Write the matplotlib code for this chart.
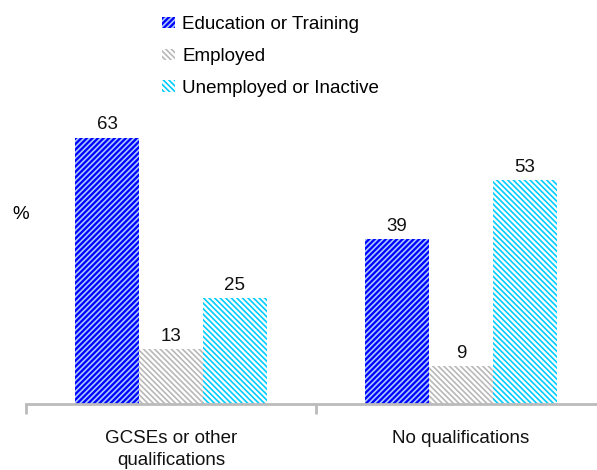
import matplotlib
matplotlib.use("Agg")
import matplotlib.pyplot as plt
from matplotlib.patches import Patch
import numpy as np

plt.rcParams['font.family'] = ['Liberation Sans', 'DejaVu Sans']
plt.rcParams['hatch.linewidth'] = 1.2

categories = ["GCSEs or other\nqualifications", "No qualifications"]
series = ["Education or Training", "Employed", "Unemployed or Inactive"]
edu = [63, 39]
emp = [13, 9]
unemp = [25, 53]
values = [edu, emp, unemp]

faces = ["#0000FF", "white", "white"]
hatchcols = ["#A8C8FF", "#B8B8B8", "#00CCFF"]
hatches = ["//////", "\\\\\\\\\\\\", "\\\\\\\\\\\\"]

fs = 13.5
fig = plt.figure(figsize=(5.97, 4.70), dpi=100)
ax = fig.add_axes([26/597, 1-404/470, (606-26)/597, (404-108)/470])

x = np.arange(len(categories))
w = 0.22
for i, (vals, fc, hc, h) in enumerate(zip(values, faces, hatchcols, hatches)):
    pos = x + (i - 1) * w
    ax.bar(pos, vals, w, facecolor=fc, edgecolor=hc, hatch=h, linewidth=0)
    for p, v in zip(pos, vals):
        ax.text(p, v + 1.0, str(v), ha='center', va='bottom', fontsize=fs, color='#111111')

ax.set_xlim(-0.5, 1.5)
ax.set_ylim(0, 70)
for s in ['top', 'right', 'left']:
    ax.spines[s].set_visible(False)
ax.spines['bottom'].set_color('#BBBBBB')
ax.spines['bottom'].set_linewidth(2)
ax.set_yticks([])
ax.set_xticks([-0.5, 0.5, 1.5])
ax.set_xticklabels([])
ax.tick_params(axis='x', length=7, width=2, color='#BBBBBB')
for xi, lab in zip(x, categories):
    ax.text(xi, -6.2, lab, ha='center', va='top', fontsize=fs, color='#111111',
            transform=ax.transData, linespacing=1.38, clip_on=False)

fig.text(21/597, 1-215/470, "%", ha='center', va='center', fontsize=fs)

handles = [Patch(facecolor=fc, edgecolor=hc, hatch=h, linewidth=0)
           for fc, hc, h in zip(faces, hatchcols, hatches)]
fig.legend(handles, series, loc='upper left', bbox_to_anchor=(162/597, 1-16/470),
           frameon=False, fontsize=fs, handlelength=0.7, handleheight=0.53,
           handletextpad=0.37, labelspacing=0.79, borderaxespad=0, borderpad=0)

fig.savefig("out.png", dpi=100)
